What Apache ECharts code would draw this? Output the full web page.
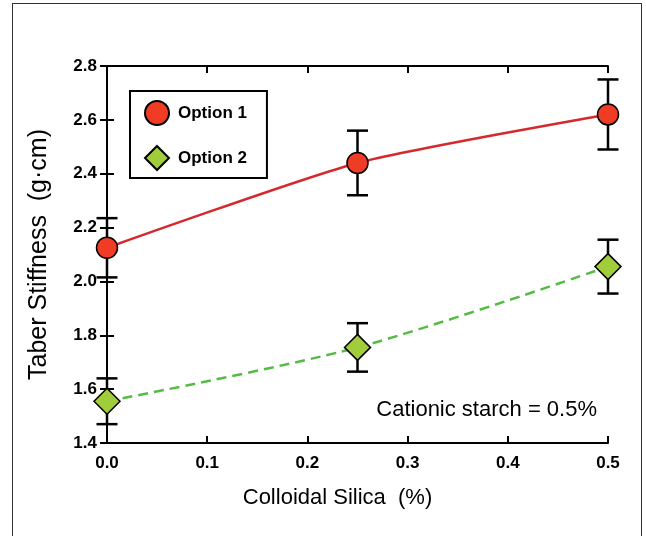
<!DOCTYPE html>
<html>
<head>
<meta charset="utf-8">
<style>
  html, body { margin: 0; padding: 0; background: #fff; }
  #frame { position: absolute; left: 12px; top: 3px; width: 630px; height: 540px; border: 1px solid #333; box-sizing: border-box; }
  #chart { position: absolute; left: 0; top: 0; width: 646px; height: 536px; }
</style>
<script src="https://cdn.jsdelivr.net/npm/echarts@6/dist/echarts.min.js"></script>
</head>
<body>
<div id="frame"></div>
<div id="chart"></div>
<script>
// Colloidal silica dosage (%)
const silica = [0, 0.25, 0.5];
// Taber stiffness (g·cm) and its error half-width per dosage
const option1 = [2.125, 2.44, 2.62];
const option1Err = [0.11, 0.12, 0.13];
const option2 = [1.555, 1.755, 2.055];
const option2Err = [0.085, 0.09, 0.10];
const xTicks = [0, 0.1, 0.2, 0.3, 0.4, 0.5];
const yTicks = [1.4, 1.6, 1.8, 2.0, 2.2, 2.4, 2.6, 2.8];

const FONT = 'Liberation Sans, Arial, sans-serif';

function pairs(xs, ys) { return xs.map((x, i) => [x, ys[i]]); }
function errRows(xs, ys, es) { return xs.map((x, i) => [x, ys[i] - es[i], ys[i] + es[i]]); }

function errorBar(params, api) {
  const x = api.value(0);
  const lo = api.coord([x, api.value(1)]);
  const hi = api.coord([x, api.value(2)]);
  const half = 10.5;
  const style = { stroke: '#000', lineWidth: 2.5, fill: null };
  return {
    type: 'group',
    children: [
      { type: 'line', shape: { x1: lo[0], y1: lo[1], x2: hi[0], y2: hi[1] }, style },
      { type: 'line', shape: { x1: lo[0] - half, y1: lo[1], x2: lo[0] + half, y2: lo[1] }, style },
      { type: 'line', shape: { x1: hi[0] - half, y1: hi[1], x2: hi[0] + half, y2: hi[1] }, style }
    ]
  };
}

const axisLine = { lineStyle: { color: '#000', width: 2 } };
const axisTick = { inside: true, length: 7, lineStyle: { color: '#000', width: 2 } };

const chart = echarts.init(document.getElementById('chart'));
chart.setOption({
  animation: false,
  grid: { left: 107, right: 38, top: 66, bottom: 93 },
  legend: {
    data: [{ name: 'Option 1', icon: 'circle' }, { name: 'Option 2', icon: 'diamond' }],
    orient: 'vertical',
    left: 130, top: 91,
    padding: [9, 20, 7, 14],
    itemGap: 19,
    itemWidth: 24, itemHeight: 24,
    borderColor: '#000', borderWidth: 2,
    textStyle: { fontFamily: FONT, fontWeight: 'bold', fontSize: 17, color: '#000', padding: [0, 0, 0, 4] }
  },
  xAxis: [{
    type: 'value', min: 0, max: 0.5, interval: 0.1,
    name: 'Colloidal Silica  (%)', nameLocation: 'middle', nameGap: 44,
    nameTextStyle: { fontFamily: FONT, fontSize: 22, color: '#000', padding: [0, 40, 0, 0] },
    axisLine, axisTick, splitLine: { show: false },
    axisLabel: { margin: 12, fontFamily: FONT, fontWeight: 'bold', fontSize: 17, color: '#000',
      customValues: xTicks, formatter: v => v.toFixed(1) }
  }, {
    type: 'value', position: 'top', min: 0, max: 0.5, interval: 0.1,
    axisLine, axisTick, axisLabel: { show: false }, splitLine: { show: false }
  }],
  yAxis: [{
    type: 'value', min: 1.4, max: 2.8, interval: 0.2,
    name: 'Taber Stiffness  (g·cm)', nameLocation: 'middle', nameGap: 55,
    nameTextStyle: { fontFamily: FONT, fontSize: 25, color: '#000' },
    axisLine, axisTick, splitLine: { show: false },
    axisLabel: { margin: 10, fontFamily: FONT, fontWeight: 'bold', fontSize: 17, color: '#000',
      customValues: yTicks, formatter: v => v.toFixed(1) }
  }, {
    type: 'value', position: 'right', min: 1.4, max: 2.8, interval: 0.2,
    axisLine, axisTick, axisLabel: { show: false }, splitLine: { show: false }
  }],
  graphic: [{
    type: 'text', right: 49, top: 399,
    style: { text: 'Cationic starch = 0.5%', fontFamily: FONT, fontSize: 22, fill: '#000' }
  }],
  series: [
    {
      type: 'custom', renderItem: errorBar, data: errRows(silica, option1, option1Err),
      encode: { x: 0, y: [1, 2] }, z: 3, silent: true
    },
    {
      type: 'custom', renderItem: errorBar, data: errRows(silica, option2, option2Err),
      encode: { x: 0, y: [1, 2] }, z: 3, silent: true
    },
    {
      name: 'Option 1', type: 'line', data: pairs(silica, option1), smooth: 0.2,
      symbol: 'circle', symbolSize: 21, z: 5,
      lineStyle: { color: '#d42a2e', width: 2.5 },
      itemStyle: { color: '#f03c24', borderColor: '#000', borderWidth: 1.5 }
    },
    {
      name: 'Option 2', type: 'line', data: pairs(silica, option2), smooth: 0.3,
      symbol: 'diamond', symbolSize: 26, z: 5,
      lineStyle: { color: '#55bb44', width: 2.5, type: [10, 6] },
      itemStyle: { color: '#a2cd3a', borderColor: '#000', borderWidth: 1.5 }
    }
  ]
});
</script>
</body>
</html>
